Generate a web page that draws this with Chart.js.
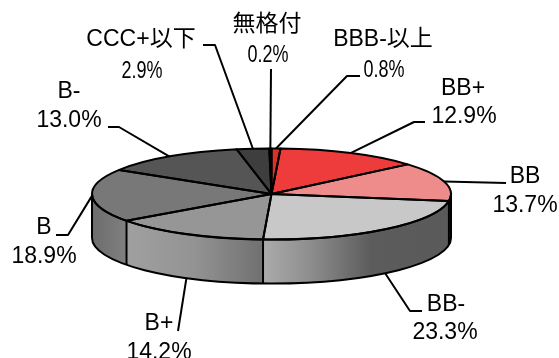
<!DOCTYPE html>
<html>
<head>
<meta charset="utf-8">
<title>格付別構成</title>
<script src="https://cdn.jsdelivr.net/npm/chart.js"></script>
<style>
  html, body { margin: 0; padding: 0; background: #fff; overflow: hidden; }
  #wrap { width: 559px; height: 358px; }
</style>
</head>
<body>
<div id="wrap"><canvas id="ratingPie"></canvas></div>
<script>
// rating breakdown, clockwise from 12 o'clock
const ratings = ['BBB-以上', 'BB+', 'BB', 'BB-', 'B+', 'B', 'B-', 'CCC+以下', '無格付'];
const shares = [0.8, 12.9, 13.7, 23.3, 14.2, 18.9, 13.0, 2.9, 0.2];
const topColors = ['#d8322a', '#ee3c3c', '#ee8c8c', '#c8c8c8', '#969696', '#787878', '#555555', '#3e3e3e', '#1e1e1e'];

// tilted disc on the page
const DISC = { cx: 271.5, cy: 194, rx: 179.5, ry: 45.5, depth: 44 };
const FONT = '"Liberation Sans", Arial, "Noto Sans CJK JP", sans-serif';

// name / value placement and leader elbows, same order as ratings
const labelBoxes = [
  { name: [383, 38], value: [384, 69], valueW: 41, leader: [[360, 76], [347, 76]] },
  { name: [463, 87], value: [464, 115], leader: [[425, 122], [414, 122]] },
  { name: [525, 175], value: [525, 204], leader: [[506, 183]] },
  { name: [446, 303], value: [445, 331], leader: [[422, 311], [410, 311]] },
  { name: [159, 322], value: [159, 351], leader: [[178, 331]] },
  { name: [44, 226], value: [44, 255], leader: [[56, 235], [68, 235]] },
  { name: [69, 90], value: [69, 119], leader: [[108, 127], [119, 127]] },
  { name: [141, 38], value: [142, 70], valueW: 41, leader: [[203, 45], [215, 45]] },
  { name: [267, 23], value: [268, 54], valueW: 41, leader: [[271, 69]] }
];

// maps the library's round pie onto the tilted disc
function tilt(ctx, arc) {
  const r = arc.outerRadius;
  ctx.translate(DISC.cx, DISC.cy);
  ctx.scale(DISC.rx / r, DISC.ry / r);
  ctx.translate(-arc.x, -arc.y);
}

function rimPoint(angle, dy = 0) {
  return [DISC.cx + DISC.rx * Math.cos(angle), DISC.cy + DISC.ry * Math.sin(angle) + dy];
}

// side wall: only the front half of the rim shows
function wallPath(ctx, a0, a1) {
  ctx.beginPath();
  ctx.ellipse(DISC.cx, DISC.cy, DISC.rx, DISC.ry, 0, a0, a1, false);
  ctx.ellipse(DISC.cx, DISC.cy + DISC.depth, DISC.rx, DISC.ry, 0, a1, a0, true);
  ctx.closePath();
}

// wall shading per slice, left to right across the page
const wallStops = [
  null, null,
  [[0, '#5a5a5a'], [1, '#5a5a5a']],
  [[0, '#ababab'], [0.25, '#8e8e8e'], [0.58, '#5c5c5c'], [1, '#5a5a5a']],
  [[0, '#a0a0a0'], [0.5, '#939393'], [1, '#707070']],
  [[0, '#6c6c6c'], [1, '#808080']],
  null, null, null
];

const discPlugin = {
  id: 'disc',
  beforeDatasetsDraw(chart) {
    const { ctx } = chart;
    const arcs = chart.getDatasetMeta(0).data;
    ctx.save();
    arcs.forEach((arc, i) => {
      const stops = wallStops[i];
      if (!stops) return;
      const a0 = Math.max(arc.startAngle, 0);
      const a1 = Math.min(arc.endAngle, Math.PI);
      const xs = [rimPoint(a0)[0], rimPoint(a1)[0]];
      const g = ctx.createLinearGradient(Math.min(...xs), 0, Math.max(...xs), 0);
      stops.forEach(([p, c]) => g.addColorStop(p, c));
      wallPath(ctx, a0, a1);
      ctx.fillStyle = g;
      ctx.fill();
    });
    ctx.restore();
    // top face goes through the library's own arc drawing
    ctx.save();
    tilt(ctx, arcs[0]);
  },
  afterDatasetsDraw(chart) {
    const { ctx } = chart;
    const arcs = chart.getDatasetMeta(0).data;
    ctx.restore();

    ctx.save();
    ctx.strokeStyle = '#000';
    ctx.lineWidth = 2;
    ctx.lineJoin = 'round';

    // outlines built in the tilted space, stroked in page space so width stays even
    arcs.forEach(arc => {
      ctx.save();
      tilt(ctx, arc);
      ctx.beginPath();
      ctx.moveTo(arc.x, arc.y);
      ctx.arc(arc.x, arc.y, arc.outerRadius, arc.startAngle, arc.endAngle);
      ctx.closePath();
      ctx.restore();
      ctx.stroke();
    });

    // wall outline and the slice seams on it
    wallPath(ctx, 0, Math.PI);
    ctx.stroke();
    arcs.forEach(arc => {
      if (arc.endAngle > 0 && arc.endAngle < Math.PI) {
        const p = rimPoint(arc.endAngle);
        ctx.beginPath();
        ctx.moveTo(p[0], p[1]);
        ctx.lineTo(p[0], p[1] + DISC.depth);
        ctx.stroke();
      }
    });

    // leader lines run to the middle of each slice's rim
    arcs.forEach((arc, i) => {
      const mid = (arc.startAngle + arc.endAngle) / 2;
      const low = Math.sin(mid) > 0 && Math.abs(Math.cos(mid)) < 0.9;
      const end = rimPoint(mid, low ? DISC.depth : 0);
      ctx.beginPath();
      labelBoxes[i].leader.forEach((p, k) => k ? ctx.lineTo(p[0], p[1]) : ctx.moveTo(p[0], p[1]));
      ctx.lineTo(end[0], end[1]);
      ctx.stroke();
    });

    // labels
    ctx.fillStyle = '#000';
    ctx.textAlign = 'center';
    ctx.textBaseline = 'middle';
    ctx.font = '23px ' + FONT;
    const putText = (text, p, w) => {
      ctx.save();
      ctx.translate(p[0], p[1] + 1.5);
      if (w) ctx.scale(w / ctx.measureText(text).width, 1);
      ctx.fillText(text, 0, 0);
      ctx.restore();
    };
    ratings.forEach((name, i) => {
      const box = labelBoxes[i];
      putText(name, box.name);
      putText(shares[i].toFixed(1) + '%', box.value, box.valueW);
    });
    ctx.restore();
  }
};

new Chart(document.getElementById('ratingPie'), {
  type: 'pie',
  data: {
    labels: ratings,
    datasets: [{
      data: shares,
      backgroundColor: topColors,
      borderWidth: 0
    }]
  },
  options: {
    responsive: true,
    maintainAspectRatio: false,
    animation: false,
    plugins: { legend: { display: false }, tooltip: { enabled: false } }
  },
  plugins: [discPlugin]
});
</script>
</body>
</html>
